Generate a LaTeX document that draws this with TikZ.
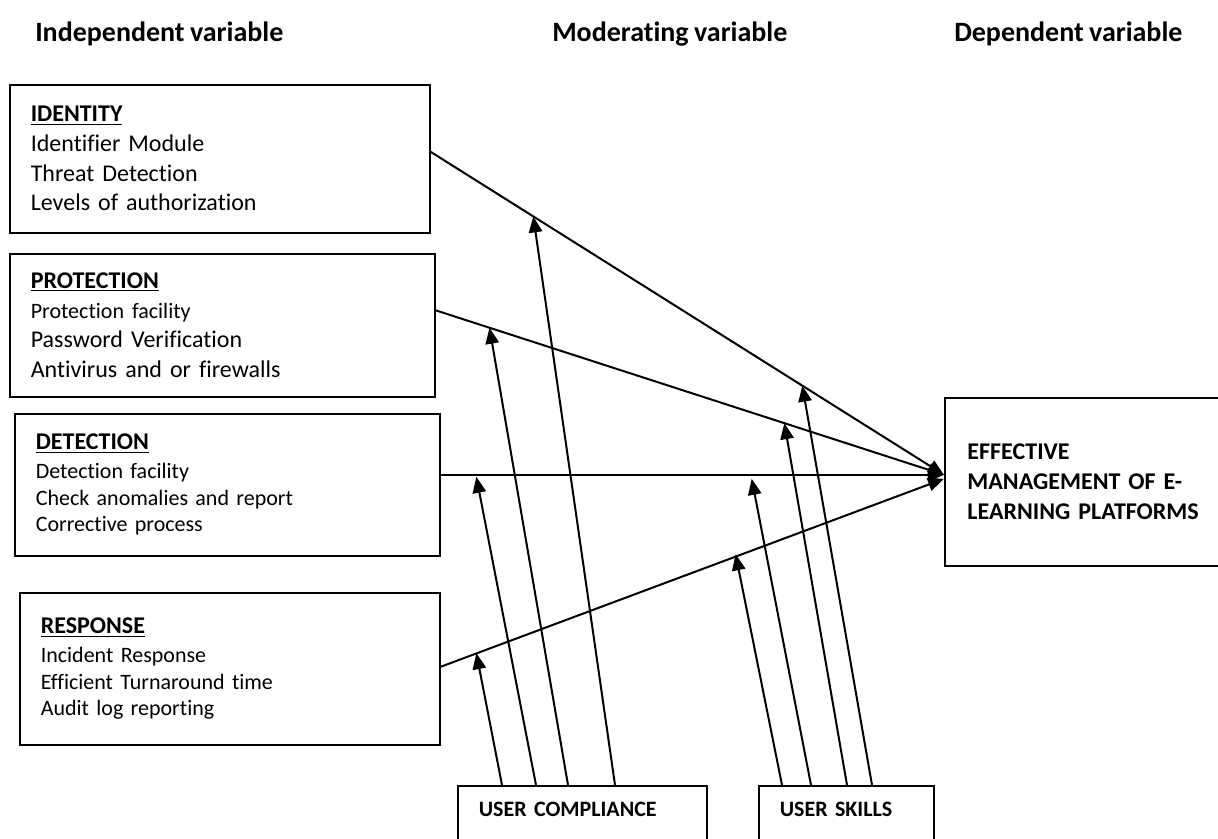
\documentclass[tikz,border=0pt]{standalone}
\usepackage{fontspec}
\setmainfont[RawFeature={-liga;-clig;-dlig},WordSpace={0.85,0.5,0.3}]{Carlito}
\usetikzlibrary{arrows.meta,calc}
\begin{document}
\begin{tikzpicture}[x=0.75pt,y=-0.75pt,
  box/.style={draw, line width=1.2pt, rectangle, inner xsep=15.75pt, inner ysep=0pt, align=left, anchor=north west},
  link/.style={line width=1.5pt, -{Triangle[length=12pt,width=10pt]}},
  head/.style={font=\bfseries\fontsize{21}{25}\selectfont, anchor=base west, inner sep=0pt},
  big/.style={font=\fontsize{18}{22.25}\selectfont},
  small/.style={font=\fontsize{16.5}{20}\selectfont},
]
\useasboundingbox (0,0) rectangle (1218,839);
\clip (0,0) rectangle (1218,839);

% headers
\node[head] (h1) at (35,41) {Independent variable};
\node[head] (h2) at (552,41) {Moderating variable};
\node[head] (h3) at (954,41) {Dependent variable};

% independent variable boxes
\node[box, big, text width=283.5pt, minimum height=111pt] (id) at (9,84)
  {\textbf{\underline{IDENTITY}}\\Identifier Module\\Threat Detection\\Levels of authorization};
\node[box, big, text width=287.25pt, minimum height=107.25pt] (pr) at (9,253)
  {\textbf{\underline{PROTECTION}}\\{\fontsize{16.5}{20}\selectfont Protection facility}\\Password Verification\\Antivirus and or firewalls};
\node[box, small, text width=287.25pt, minimum height=106.5pt] (det) at (14,413)
  {{\fontsize{18}{22}\selectfont\textbf{\underline{DETECTION}}}\\[1.5pt]Detection facility\\Check anomalies and report\\Corrective process};
\node[box, small, text width=283.5pt, minimum height=114pt] (re) at (19,592)
  {{\fontsize{18}{22}\selectfont\textbf{\underline{RESPONSE}}}\\[1.5pt]Incident Response\\Efficient Turnaround time\\Audit log reporting\\[8pt]};

% dependent variable
\node[box, font=\bfseries\fontsize{18}{22.5}\selectfont, inner xsep=17pt, text width=186pt, minimum height=126pt] (tgt) at (944,397)
  {EFFECTIVE\\MANAGEMENT OF E-\\LEARNING PLATFORMS\\[-4pt]};

% moderating variables
\node[box, font=\bfseries\fontsize{16.5}{20}\selectfont, text width=155.25pt, text height=23.25pt, text depth=33pt] (uc) at (457,785) {USER COMPLIANCE};
\node[box, font=\bfseries\fontsize{16.5}{20}\selectfont, text width=99.75pt, text height=23.25pt, text depth=33pt] (us) at (758,785) {USER SKILLS};

% hub and line starts
\coordinate (hub) at ($(tgt.west)+(0,-7)$);
\coordinate (idS) at ($(id.east)+(0,-7)$);
\coordinate (prS) at ($(pr.east)+(0,-15)$);
\coordinate (detS) at (det.east |- hub);
\coordinate (reS) at ($(re.east)+(0,-2)$);

% main connectors
\draw[link] (idS) -- (hub);
\draw[link] (prS) -- (hub);
\draw[link] (detS) -- (hub);
\draw[link] (reS) -- ($(hub)+(0,4)$);

% moderator targets on the lines
\coordinate (c4) at ($(idS)!0.2!(hub)$);
\coordinate (s4) at ($(idS)!0.724!(hub)$);
\coordinate (c3) at ($(prS)!0.106!(hub)$);
\coordinate (s3) at ($(prS)!0.686!(hub)$);
\coordinate (c2) at ($(detS)!0.071!(hub)+(0,2)$);
\coordinate (s2) at ($(detS)!0.618!(hub)+(0,4)$);
\coordinate (c1) at ($(reS)!0.071!(hub)$);
\coordinate (s1) at ($(reS)!0.586!(hub)$);

% moderator arrows
\draw[link] ($(uc.north west)+(45,0)$) -- (c1);
\draw[link] ($(uc.north west)+(79,0)$) -- (c2);
\draw[link] ($(uc.north west)+(111,0)$) -- (c3);
\draw[link] ($(uc.north west)+(158,0)$) -- (c4);
\draw[link] ($(us.north west)+(24,0)$) -- (s1);
\draw[link] ($(us.north west)+(53,0)$) -- (s2);
\draw[link] ($(us.north west)+(89,0)$) -- (s3);
\draw[link] ($(us.north west)+(114,0)$) -- (s4);
\end{tikzpicture}
\end{document}
